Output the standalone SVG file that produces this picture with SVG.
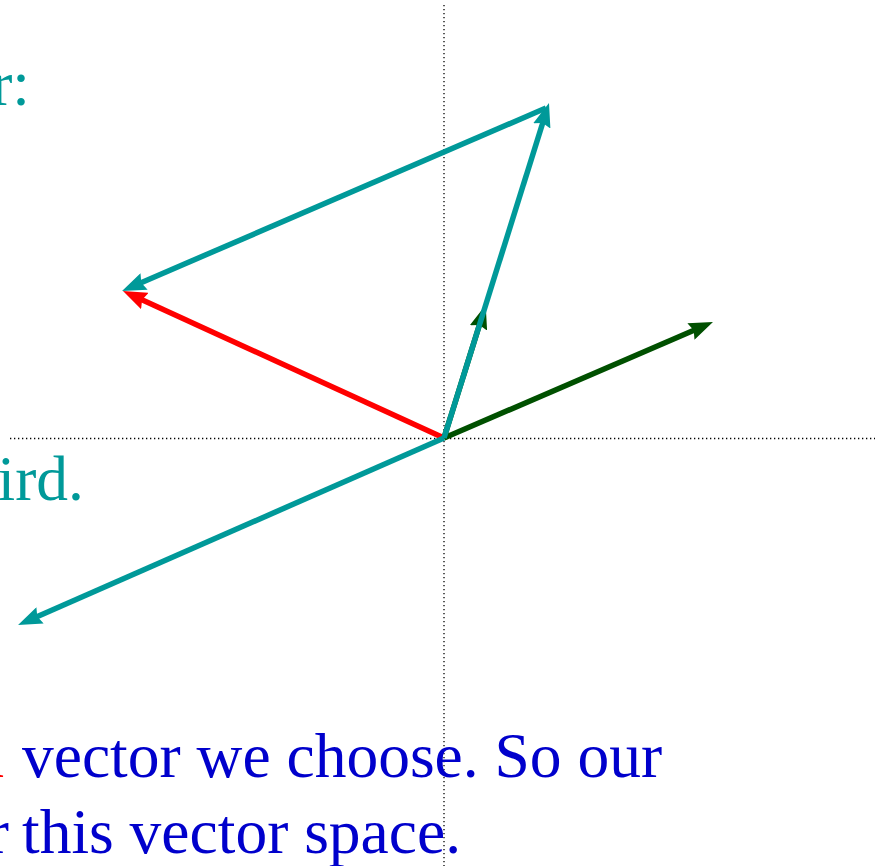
<svg xmlns="http://www.w3.org/2000/svg" width="882" height="866" viewBox="0 0 882 866">
<style>
.t{font-family:"Liberation Serif","Times New Roman",serif;font-size:63.5px}
.teal{fill:#009999}
.blue{fill:#0000CC}
.red{fill:#FF0000}
.axis{stroke:#000;stroke-width:1.3;stroke-dasharray:1.3 2.7;fill:none}
.v{stroke-width:5.5;fill:none;stroke-linecap:butt}
</style>
<defs>
<marker id="mTeal" viewBox="0 0 24 18" refX="14" refY="9" markerWidth="24" markerHeight="18" markerUnits="userSpaceOnUse" orient="auto"><path d="M0,0 L24,9 L0,18 L3,9 z" fill="#009999"/></marker>
<marker id="mRed" viewBox="0 0 24 18" refX="14" refY="9" markerWidth="24" markerHeight="18" markerUnits="userSpaceOnUse" orient="auto"><path d="M0,0 L24,9 L0,18 L3,9 z" fill="#FF0000"/></marker>
<marker id="mGreen" viewBox="0 0 24 18" refX="14" refY="9" markerWidth="24" markerHeight="18" markerUnits="userSpaceOnUse" orient="auto"><path d="M0,0 L24,9 L0,18 L3,9 z" fill="#005000"/></marker>
</defs>
<g id="axes">
<line class="axis" x1="444" y1="5" x2="444" y2="866"/>
<line class="axis" x1="10" y1="438.5" x2="875" y2="438.5"/>
</g>
<g id="texts">
<text class="t teal" x="30" y="105" text-anchor="end">r:</text>
<text class="t teal" x="84" y="500" text-anchor="end">ird.</text>
<text class="t red" x="4" y="777" text-anchor="end">a</text>
<text class="t blue" x="22" y="777">vector we choose. So our</text>
<text class="t blue" x="9" y="853" text-anchor="end">r</text>
<text class="t blue" x="22" y="853">this vector space.</text>
</g>
<g id="connectors">
<line class="v" stroke="#FF0000" x1="444" y1="438" x2="132.1" y2="295.2" marker-end="url(#mRed)"/>
<line class="v" stroke="#005000" x1="444" y1="438" x2="703.8" y2="326" marker-end="url(#mGreen)"/>
<line class="v" stroke="#005000" x1="444" y1="438" x2="482.7" y2="314.5" marker-end="url(#mGreen)"/>
<line class="v" stroke="#009999" x1="444" y1="438" x2="546" y2="112.5" marker-end="url(#mTeal)"/>
<line class="v" stroke="#009999" x1="546" y1="108" x2="131.2" y2="287" marker-end="url(#mTeal)"/>
<line class="v" stroke="#009999" x1="444" y1="438" x2="27.2" y2="621" marker-end="url(#mTeal)"/>
</g>
</svg>
